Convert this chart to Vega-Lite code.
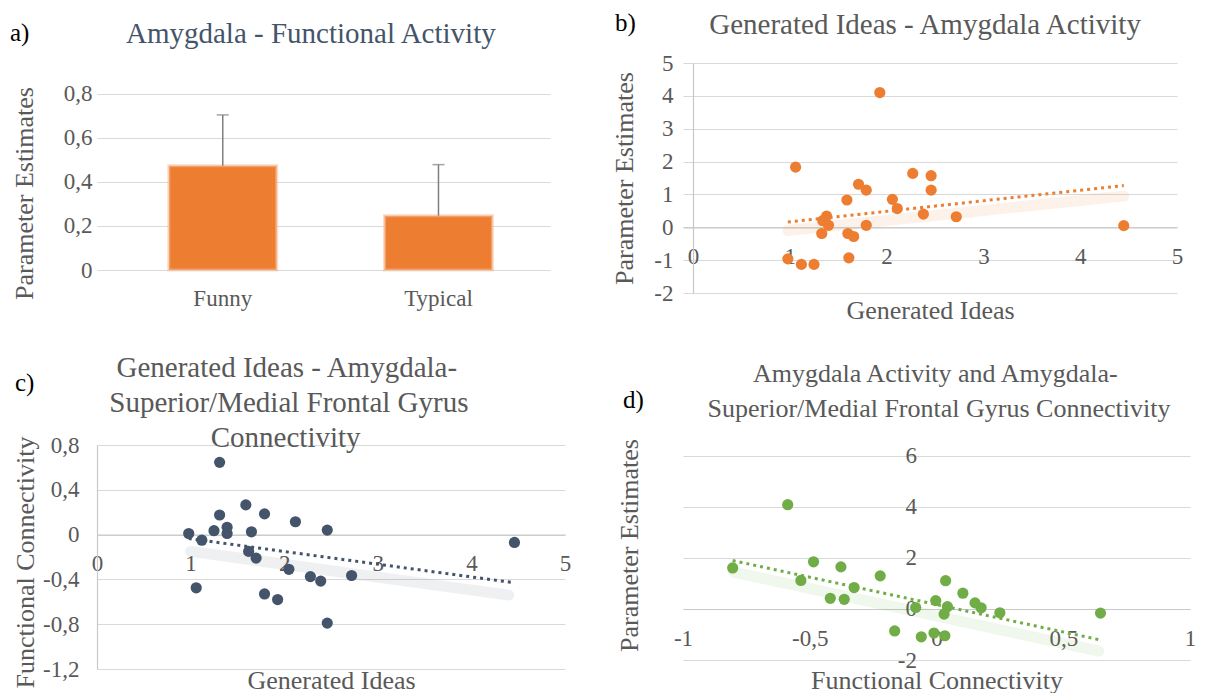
{
  "$schema": "https://vega.github.io/schema/vega-lite/v6.json",
  "background": "white",
  "padding": {"left": 10, "top": 10, "right": 5, "bottom": 5},
  "columns": 2,
  "spacing": {"row": 152, "column": 118},
  "bounds": "flush",
  "datasets": {
    "bars": [
      {"condition": "Funny", "estimate": 0.474, "upper": 0.705},
      {"condition": "Typical", "estimate": 0.247, "upper": 0.479}
    ],
    "bPoints": [
      {"ideas": 0.98, "activity": -0.96}, {"ideas": 1.06, "activity": 1.83}, {"ideas": 1.12, "activity": -1.13},
      {"ideas": 1.25, "activity": -1.13}, {"ideas": 1.33, "activity": -0.19}, {"ideas": 1.34, "activity": 0.2},
      {"ideas": 1.38, "activity": 0.34}, {"ideas": 1.4, "activity": 0.06}, {"ideas": 1.59, "activity": 0.83},
      {"ideas": 1.6, "activity": -0.19}, {"ideas": 1.61, "activity": -0.93}, {"ideas": 1.66, "activity": -0.28},
      {"ideas": 1.71, "activity": 1.31}, {"ideas": 1.79, "activity": 1.13}, {"ideas": 1.79, "activity": 0.06},
      {"ideas": 1.93, "activity": 4.1}, {"ideas": 2.06, "activity": 0.85}, {"ideas": 2.11, "activity": 0.57},
      {"ideas": 2.27, "activity": 1.64}, {"ideas": 2.38, "activity": 0.4}, {"ideas": 2.46, "activity": 1.57},
      {"ideas": 2.46, "activity": 1.13}, {"ideas": 2.72, "activity": 0.32}, {"ideas": 4.45, "activity": 0.05}
    ],
    "bTrend": [{"ideas": 0.98, "activity": 0.16}, {"ideas": 4.45, "activity": 1.27}],
    "bShadow": [{"ideas": 0.98, "activity": -0.1}, {"ideas": 4.45, "activity": 0.95}],
    "cPoints": [
      {"ideas": 0.98, "connectivity": 0.01}, {"ideas": 1.06, "connectivity": -0.475}, {"ideas": 1.12, "connectivity": -0.05},
      {"ideas": 1.25, "connectivity": 0.035}, {"ideas": 1.31, "connectivity": 0.645}, {"ideas": 1.31, "connectivity": 0.175},
      {"ideas": 1.39, "connectivity": 0.065}, {"ideas": 1.39, "connectivity": 0.01}, {"ideas": 1.59, "connectivity": 0.265},
      {"ideas": 1.62, "connectivity": -0.15}, {"ideas": 1.65, "connectivity": 0.025}, {"ideas": 1.7, "connectivity": -0.21},
      {"ideas": 1.79, "connectivity": 0.185}, {"ideas": 1.79, "connectivity": -0.53}, {"ideas": 1.93, "connectivity": -0.58},
      {"ideas": 2.05, "connectivity": -0.31}, {"ideas": 2.12, "connectivity": 0.115}, {"ideas": 2.28, "connectivity": -0.375},
      {"ideas": 2.39, "connectivity": -0.415}, {"ideas": 2.46, "connectivity": 0.04}, {"ideas": 2.46, "connectivity": -0.79},
      {"ideas": 2.72, "connectivity": -0.365}, {"ideas": 4.46, "connectivity": -0.07}
    ],
    "cTrend": [{"ideas": 0.98, "connectivity": -0.035}, {"ideas": 4.46, "connectivity": -0.43}],
    "cShadow": [{"ideas": 1.0, "connectivity": -0.15}, {"ideas": 4.4, "connectivity": -0.54}],
    "dPoints": [
      {"connectivity": -0.804, "activity": 1.61}, {"connectivity": -0.587, "activity": 4.09}, {"connectivity": -0.535, "activity": 1.12},
      {"connectivity": -0.485, "activity": 1.85}, {"connectivity": -0.419, "activity": 0.42}, {"connectivity": -0.377, "activity": 1.65},
      {"connectivity": -0.364, "activity": 0.38}, {"connectivity": -0.325, "activity": 0.84}, {"connectivity": -0.222, "activity": 1.3},
      {"connectivity": -0.165, "activity": -0.86}, {"connectivity": -0.082, "activity": 0.06}, {"connectivity": -0.06, "activity": -1.09},
      {"connectivity": -0.01, "activity": -0.94}, {"connectivity": -0.003, "activity": 0.33}, {"connectivity": 0.033, "activity": -1.05},
      {"connectivity": 0.036, "activity": 1.11}, {"connectivity": 0.043, "activity": 0.09}, {"connectivity": 0.03, "activity": -0.2},
      {"connectivity": 0.104, "activity": 0.62}, {"connectivity": 0.152, "activity": 0.24}, {"connectivity": 0.176, "activity": 0.05},
      {"connectivity": 0.25, "activity": -0.15}, {"connectivity": 0.647, "activity": -0.16}
    ],
    "dTrend": [{"connectivity": -0.804, "activity": 1.9}, {"connectivity": 0.64, "activity": -1.2}],
    "dShadow": [{"connectivity": -0.8, "activity": 1.45}, {"connectivity": 0.64, "activity": -1.65}]
  },
  "concat": [
    {
      "width": 453,
      "height": 207,
      "data": {"name": "bars"},
      "title": {
        "text": "a)",
        "subtitle": "\u200b\u00a0\u00a0\u00a0\u00a0\u00a0\u00a0\u00a0\u00a0\u00a0\u00a0\u00a0\u00a0\u00a0\u00a0\u00a0\u00a0Amygdala - Functional Activity",
        "dx": -87,
        "subtitlePadding": -26,
        "offset": 13,
        "subtitleFontSize": 29,
        "subtitleColor": "#44546A"
      },
      "encoding": {
        "x": {
          "field": "condition", "type": "nominal", "sort": null,
          "scale": {"paddingInner": 0.5, "paddingOuter": 0.3, "align": 0.555},
          "axis": {"title": null, "labelAngle": 0, "domain": false, "labelPadding": 17}
        }
      },
      "layer": [
        {
          "mark": {"type": "bar", "color": "#ED7D31", "stroke": "#F6BE98", "strokeWidth": 3, "strokeOpacity": 0.55},
          "encoding": {
            "y": {
              "field": "estimate", "type": "quantitative",
              "scale": {"domain": [0, 0.9409], "nice": false},
              "axis": {"title": "Parameter Estimates", "values": [0, 0.2, 0.4, 0.6, 0.8], "domain": false, "grid": true, "offset": -20,
                       "labelPadding": 25, "titlePadding": 26, "titleY": 130, "labelExpr": "replace(datum.value + '', '.', ',')"}
            }
          }
        },
        {
          "mark": {"type": "rule", "color": "#7f7f7f", "strokeWidth": 1.5},
          "encoding": {"y": {"field": "estimate", "type": "quantitative"}, "y2": {"field": "upper"}}
        },
        {
          "mark": {"type": "tick", "color": "#7f7f7f", "thickness": 1.5, "size": 12},
          "encoding": {"y": {"field": "upper", "type": "quantitative"}}
        }
      ]
    },
    {
      "width": 494,
      "height": 230,
      "title": {
        "text": "b)",
        "subtitle": "\u200b\u00a0\u00a0\u00a0\u00a0\u00a0\u00a0\u00a0\u00a0\u00a0\u00a0\u00a0\u00a0\u00a0Generated Ideas - Amygdala Activity",
        "dx": -68,
        "subtitlePadding": -25,
        "offset": 12.5,
        "subtitleFontSize": 29
      },
      "encoding": {
        "x": {
          "field": "ideas", "type": "quantitative",
          "scale": {"domain": [-0.1033, 5], "nice": false, "zero": false},
          "axis": {"title": "Generated Ideas", "values": [0, 1, 2, 3, 4, 5], "offset": -65.7, "grid": false, "domain": true,
                   "labelPadding": 18, "titlePadding": 29, "labelExpr": "datum.value + ''"}
        },
        "y": {
          "field": "activity", "type": "quantitative",
          "scale": {"domain": [-2, 5], "nice": false},
          "axis": {"title": "Parameter Estimates", "values": [-2, -1, 0, 1, 2, 3, 4, 5], "grid": true, "domain": true, "offset": -10,
                   "labelPadding": 20, "titlePadding": 16, "labelExpr": "datum.value + ''"}
        }
      },
      "layer": [
        {"data": {"name": "bShadow"}, "mark": {"type": "line", "color": "#ED7D31", "strokeWidth": 11, "opacity": 0.1, "strokeCap": "round"}},
        {"data": {"name": "bTrend"}, "mark": {"type": "line", "color": "#ED7D31", "strokeWidth": 3, "strokeDash": [3, 4]}},
        {"data": {"name": "bPoints"}, "mark": {"type": "circle", "color": "#ED7D31", "size": 125, "opacity": 1}}
      ]
    },
    {
      "width": 468,
      "height": 224,
      "title": {
        "text": "c)",
        "subtitle": [
          "\u200b\u00a0\u00a0\u00a0\u00a0\u00a0\u00a0\u00a0\u00a0\u00a0\u00a0\u00a0\u00a0\u00a0\u00a0Generated Ideas - Amygdala-",
          "\u200b\u00a0\u00a0\u00a0\u00a0\u00a0\u00a0\u00a0\u00a0\u00a0\u00a0\u00a0\u00a0\u00a0Superior/Medial Frontal Gyrus",
          "\u200b\u00a0\u00a0\u00a0\u00a0\u00a0\u00a0\u00a0\u00a0\u00a0\u00a0\u00a0\u00a0\u00a0\u00a0\u00a0\u00a0\u00a0\u00a0\u00a0\u00a0\u00a0\u00a0\u00a0\u00a0\u00a0\u00a0\u00a0Connectivity"
        ],
        "dx": -82,
        "subtitlePadding": -41.5,
        "offset": -35.5,
        "subtitleFontSize": 29
      },
      "encoding": {
        "x": {
          "field": "ideas", "type": "quantitative",
          "scale": {"domain": [0, 5], "nice": false},
          "axis": {"title": "Generated Ideas", "values": [0, 1, 2, 3, 4, 5], "offset": -134.4, "grid": false, "domain": true,
                   "labelPadding": 18, "titlePadding": 92, "labelExpr": "datum.value + ''"}
        },
        "y": {
          "field": "connectivity", "type": "quantitative",
          "scale": {"domain": [-1.2, 0.8], "nice": false},
          "axis": {"title": "Functional Connectivity", "values": [-1.2, -0.8, -0.4, 0, 0.4, 0.8], "grid": true, "domain": true,
                   "labelPadding": 18, "titlePadding": 4, "titleY": 117, "labelExpr": "replace(datum.value + '', '.', ',')"}
        }
      },
      "layer": [
        {"data": {"name": "cShadow"}, "mark": {"type": "line", "color": "#44546A", "strokeWidth": 11, "opacity": 0.09, "strokeCap": "round"}},
        {"data": {"name": "cTrend"}, "mark": {"type": "line", "color": "#44546A", "strokeWidth": 3, "strokeDash": [3, 4]}},
        {"data": {"name": "cPoints"}, "mark": {"type": "circle", "color": "#44546A", "size": 125, "opacity": 1}}
      ]
    },
    {
      "width": 507,
      "height": 215,
      "title": {
        "text": "d)",
        "subtitle": [
          "\u200b\u00a0\u00a0\u00a0\u00a0\u00a0\u00a0\u00a0\u00a0\u00a0\u00a0\u00a0\u00a0\u00a0\u00a0\u00a0\u00a0\u00a0\u00a0\u00a0\u00a0Amygdala Activity and Amygdala-",
          "\u200b\u00a0\u00a0\u00a0\u00a0\u00a0\u00a0\u00a0\u00a0\u00a0\u00a0\u00a0\u00a0\u00a0Superior/Medial Frontal Gyrus Connectivity"
        ],
        "dx": -60,
        "subtitlePadding": -52.5,
        "offset": -10.5,
        "subtitleFontSize": 26
      },
      "encoding": {
        "x": {
          "field": "connectivity", "type": "quantitative",
          "scale": {"domain": [-1, 1], "nice": false},
          "axis": {"title": "Functional Connectivity", "values": [-1, -0.5, 0, 0.5, 1], "offset": -51, "grid": false, "domain": true,
                   "labelPadding": 18, "titlePadding": 17, "labelExpr": "replace(datum.value + '', '.', ',')"}
        },
        "y": {
          "field": "activity", "type": "quantitative",
          "scale": {"domain": [-2, 6.431], "nice": false},
          "axis": {"title": "Parameter Estimates", "values": [-2, 0, 2, 4, 6], "offset": -253.5, "grid": true, "domain": false,
                   "labelPadding": 20, "titlePadding": 255, "titleY": 100, "labelExpr": "datum.value + ''"}
        }
      },
      "layer": [
        {"mark": {"type": "rule", "color": "#c8c8c8", "strokeWidth": 1.2},
         "encoding": {"x": {"datum": 0}, "y": {"datum": -2}, "y2": {"datum": 6}}},
        {"data": {"name": "dShadow"}, "mark": {"type": "line", "color": "#70AD47", "strokeWidth": 11, "opacity": 0.1, "strokeCap": "round"}},
        {"data": {"name": "dTrend"}, "mark": {"type": "line", "color": "#70AD47", "strokeWidth": 3, "strokeDash": [3, 4]}},
        {"data": {"name": "dPoints"}, "mark": {"type": "circle", "color": "#70AD47", "size": 125, "opacity": 1}}
      ]
    }
  ],
  "config": {
    "font": "Times New Roman",
    "view": {"stroke": null},
    "style": {
      "guide-label": {"font": "Times New Roman"},
      "guide-title": {"font": "Times New Roman"}
    },
    "axis": {
      "labelFont": "Times New Roman", "titleFont": "Times New Roman",
      "labelFontSize": 23, "titleFontSize": 26, "titleFontWeight": "normal",
      "labelColor": "#595959", "titleColor": "#595959",
      "gridColor": "#d9d9d9", "gridWidth": 1.2, "domainColor": "#c8c8c8", "domainWidth": 1.2,
      "ticks": false, "labelOverlap": false, "labelFlush": false
    },
    "title": {
      "anchor": "start", "frame": "group",
      "font": "Liberation Serif, Times New Roman, serif", "fontSize": 25, "fontWeight": "normal", "color": "#000000",
      "subtitleFont": "Liberation Serif, Times New Roman, serif", "subtitleFontSize": 28, "subtitleColor": "#595959",
      "subtitleLineHeight": 35
    }
  }
}
